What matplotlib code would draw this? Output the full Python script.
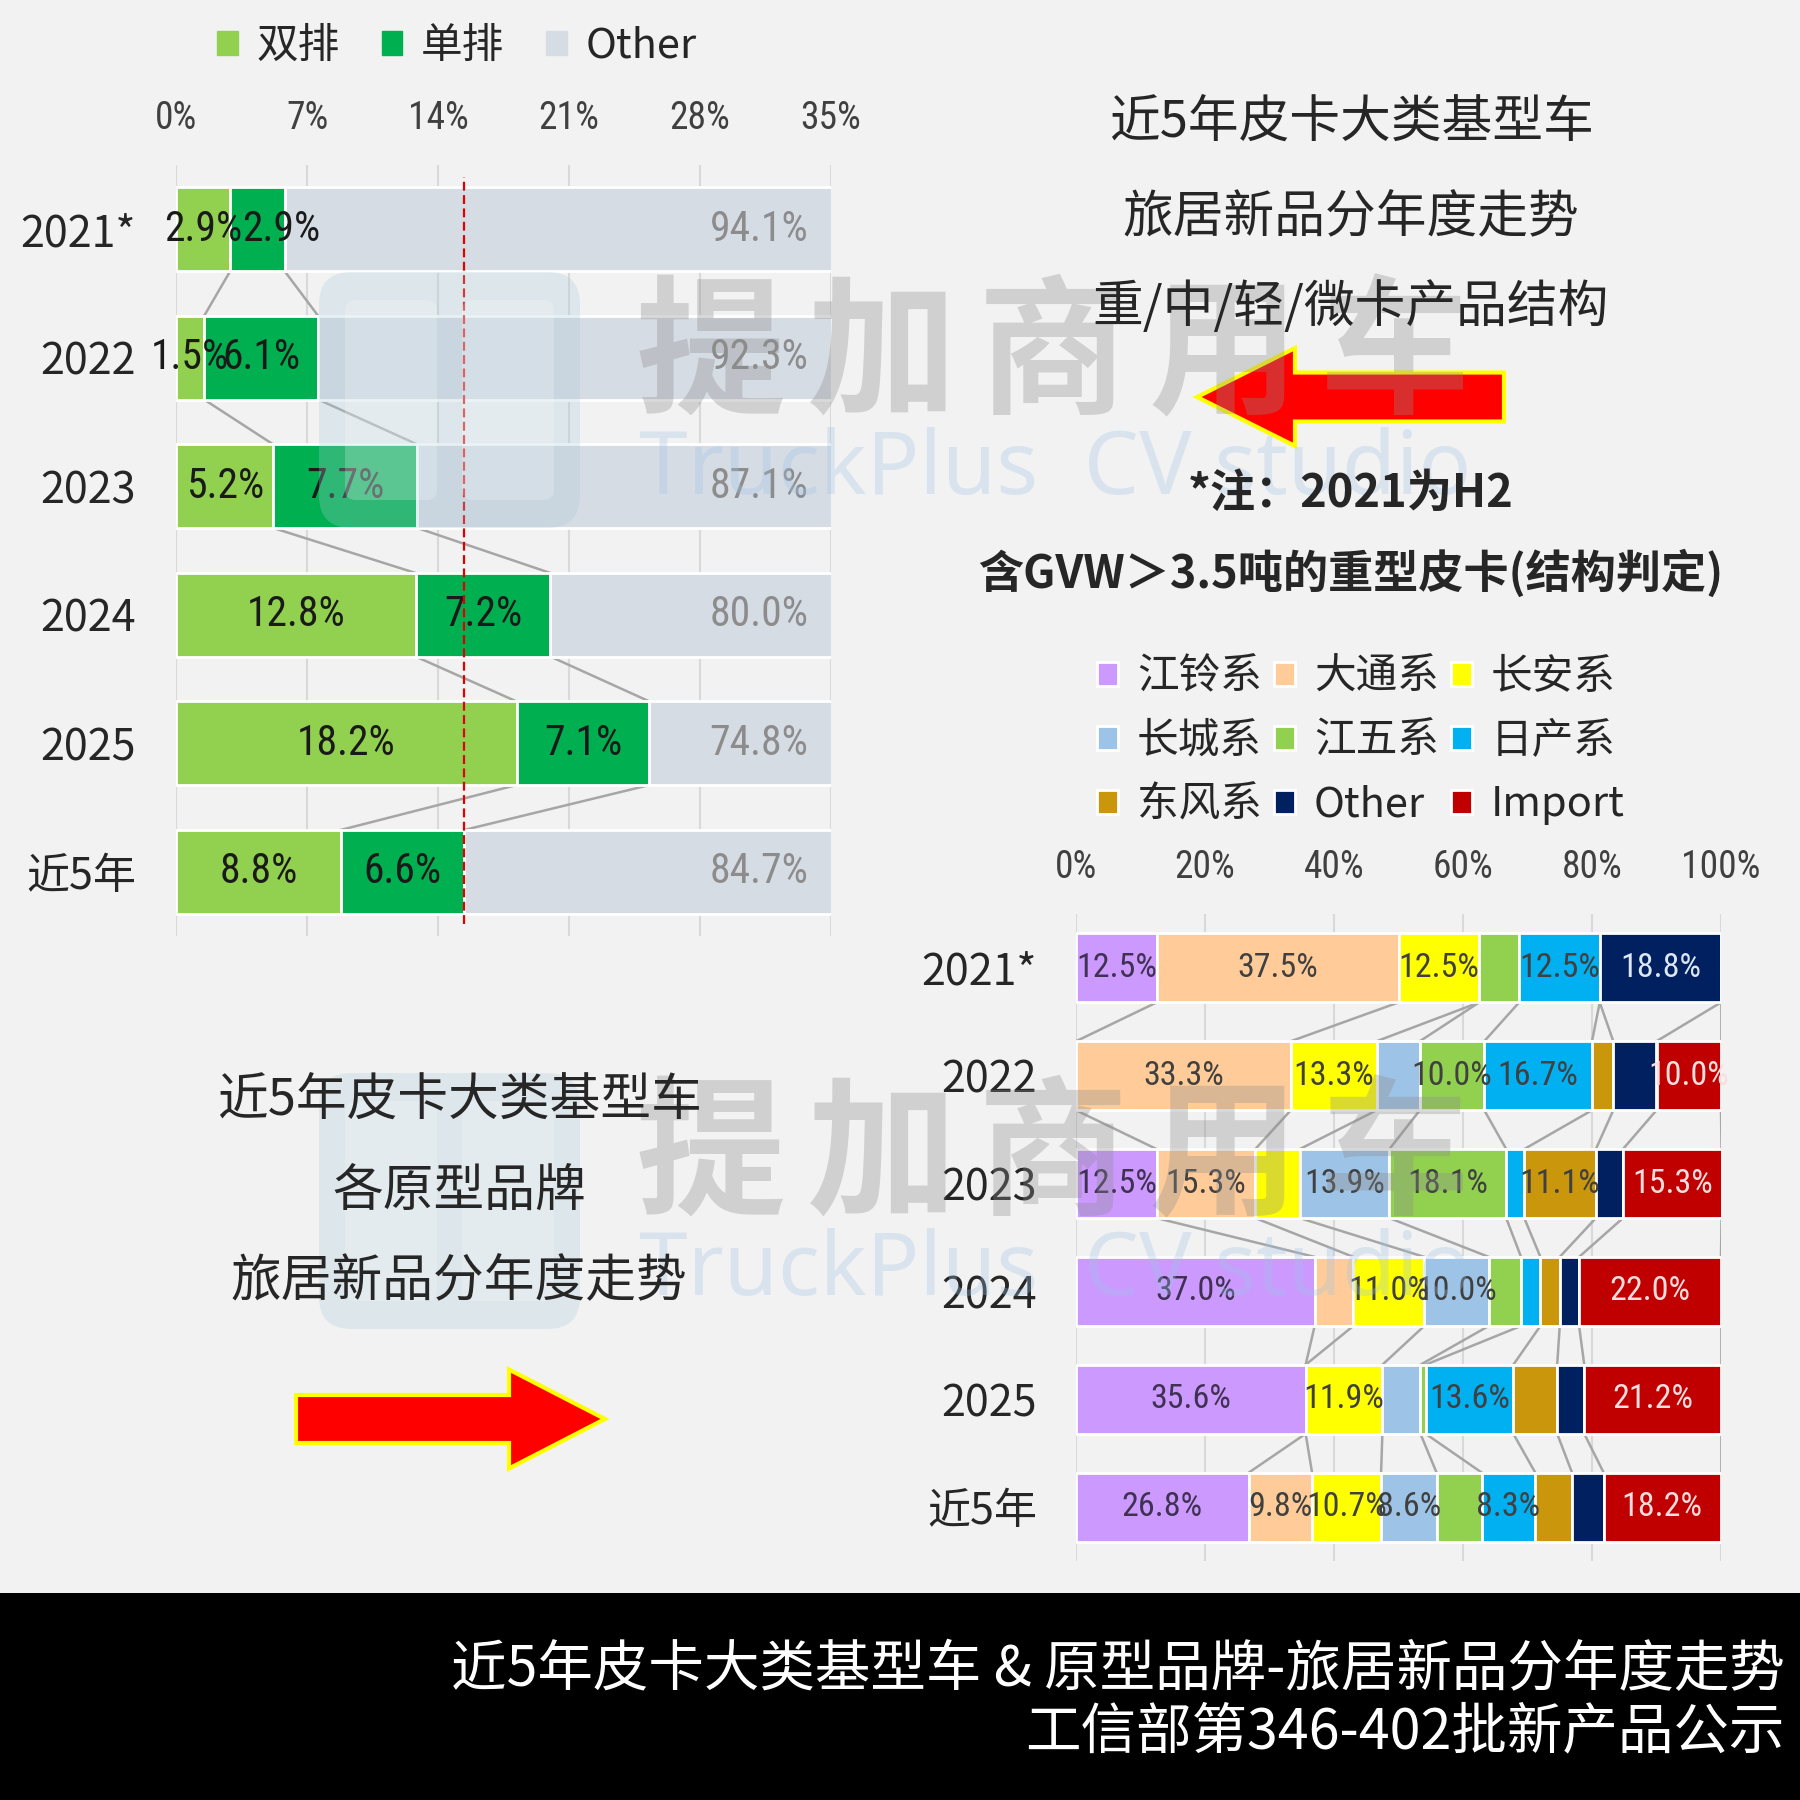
import numpy as np
import matplotlib
matplotlib.use('Agg')
import matplotlib.pyplot as plt
from matplotlib import font_manager
from matplotlib.patches import Rectangle, FancyArrow, FancyBboxPatch

# ---- data: left chart, body style share (%) ----
years = ['2021*', '2022', '2023', '2024', '2025', '近5年']
shuangpai = [2.9, 1.5, 5.2, 12.8, 18.2, 8.8]
danpai = [2.9, 6.1, 7.7, 7.2, 7.1, 6.6]
other_left = [94.1, 92.3, 87.1, 80.0, 74.8, 84.7]
left_series = ['双排', '单排', 'Other']
left_ticks = [0, 7, 14, 21, 28, 35]

# ---- data: right chart, prototype brand share (%) ----
brands = ['江铃系', '大通系', '长安系', '长城系', '江五系', '日产系', '东风系', 'Other', 'Import']
jiangling = [12.5, 0, 12.5, 37.0, 35.6, 26.8]
datong = [37.5, 33.3, 15.3, 6.0, 0, 9.8]
changan = [12.5, 13.3, 6.9, 11.0, 11.9, 10.7]
changcheng = [0, 6.7, 13.9, 10.0, 5.9, 8.6]
jiangwu = [6.2, 10.0, 18.1, 5.0, 0.8, 7.0]
richan = [12.5, 16.7, 2.8, 3.0, 13.6, 8.3]
dongfeng = [0, 3.3, 11.1, 3.0, 6.8, 5.7]
other_right = [18.8, 6.7, 4.2, 3.0, 4.2, 4.9]
imports = [0, 10.0, 15.3, 22.0, 21.2, 18.2]
right_ticks = [0, 20, 40, 60, 80, 100]

left_colors = ['#92D050', '#00B050', '#D6DCE4']
brand_colors = ['#CC99FF', '#FFCC99', '#FFFF00', '#9DC3E6', '#92D050',
                '#00B0F0', '#C9960C', '#002060', '#C00000']
brand_text = ['#3F3151', '#404040', '#404040', '#404040', '#404040',
              '#404040', '#404040', '#DDE6F5', '#F8DEDE']

CJK = 'Noto Sans CJK SC'
names = {f.name for f in font_manager.fontManager.ttflist}
NARROW = next((n for n in ['Liberation Sans Narrow', 'Arial Narrow', 'Roboto Condensed']
               if n in names), None)
if NARROW is None:
    NARROW, nscale = 'Liberation Sans', 0.82
else:
    nscale = 1.0
TXT = '#262626'
BG = '#F2F2F2'

W = 1800.0


def fx(px):
    return px / W


def fy(px):
    return 1 - px / W


fig = plt.figure(figsize=(18, 18), dpi=100, facecolor=BG)

# ================= left chart =================
axL = fig.add_axes([fx(176), fy(936), fx(831 - 176), (936 - 165) / W])
axL.set_facecolor('none')
y = np.arange(len(years))
h = 0.65
s = np.array(shuangpai)
d = np.array(danpai)
o = np.array(other_left)
axL.barh(y, s, height=h, color=left_colors[0], edgecolor='white', lw=2, zorder=2)
axL.barh(y, d, left=s, height=h, color=left_colors[1], edgecolor='white', lw=2, zorder=2)
axL.barh(y, o, left=s + d, height=h, color=left_colors[2], edgecolor='white', lw=2, zorder=2)
for cum in [s, s + d]:
    for i in range(len(years) - 1):
        axL.plot([cum[i], cum[i + 1]], [i + h / 2, i + 1 - h / 2],
                 color='#A6A6A6', lw=1.8, zorder=1)
# the first 单排 label was nudged right in the original
nudge = {0: 1.3}
for i in range(len(years)):
    axL.text(s[i] / 2, i, f'{s[i]:.1f}%', ha='center', va='center',
             family=NARROW, fontsize=30 * nscale, color='#1A1A1A', zorder=4)
    axL.text(s[i] + d[i] / 2 + nudge.get(i, 0), i, f'{d[i]:.1f}%', ha='center', va='center',
             family=NARROW, fontsize=30 * nscale, color='#1A1A1A', zorder=4)
    axL.text(33.8, i, f'{o[i]:.1f}%', ha='right', va='center',
             family=NARROW, fontsize=30 * nscale, color='#8C8C8C', zorder=4)
avg = s[-1] + d[-1]
axL.axvline(avg, ymin=0.015, ymax=0.985, color='#E00000', ls=(0, (4, 2)), lw=1.6, zorder=5)
axL.set_xlim(0, 35)
axL.set_ylim(len(years) - 0.5, -0.5)
axL.set_xticks(left_ticks)
axL.set_xticklabels([f'{t}%' for t in left_ticks], family=NARROW,
                    fontsize=27 * nscale, color='#404040')
axL.xaxis.tick_top()
axL.set_yticks(y)
axL.set_yticklabels(years, family=[CJK, 'DejaVu Sans'], fontsize=31, color=TXT)
axL.tick_params(length=0)
axL.tick_params(axis='x', pad=20)
axL.tick_params(axis='y', pad=29)
axL.grid(axis='x', color='#D9D9D9', lw=1.5)
axL.set_axisbelow(True)
for sp in axL.spines.values():
    sp.set_visible(False)

hl = [Rectangle((0, 0), 1, 1, color=c) for c in left_colors]
fig.legend(hl, left_series, loc='center', bbox_to_anchor=(fx(457), fy(46)), ncol=3,
           frameon=False, handlelength=0.5, handleheight=0.5, handletextpad=0.45,
           columnspacing=1.0, prop={'family': CJK, 'size': 30}, labelcolor=TXT)

# ================= right chart =================
axR = fig.add_axes([fx(1076), fy(1561), fx(1721 - 1076), (1561 - 914) / W])
axR.set_facecolor('none')
hr = 0.64
shares = np.array([jiangling, datong, changan, changcheng, jiangwu,
                   richan, dongfeng, other_right, imports])
left = np.zeros(len(years))
for k, name in enumerate(brands):
    vals = shares[k]
    axR.barh(y, vals, left=left, height=hr, color=brand_colors[k],
             edgecolor='white', lw=2, zorder=2, label=name)
    for i in range(len(years)):
        if vals[i] >= 8:
            axR.text(left[i] + vals[i] / 2, i, f'{vals[i]:.1f}%', ha='center', va='center',
                     family=NARROW, fontsize=24.5 * nscale, color=brand_text[k], zorder=4)
    left = left + vals
    for i in range(len(years) - 1):
        axR.plot([left[i], left[i + 1]], [i + hr / 2, i + 1 - hr / 2],
                 color='#A6A6A6', lw=1.8, zorder=1)
axR.set_xlim(0, 100)
axR.set_ylim(len(years) - 0.5, -0.5)
axR.set_xticks(right_ticks)
axR.set_xticklabels([f'{t}%' for t in right_ticks], family=NARROW,
                    fontsize=27 * nscale, color='#404040')
axR.xaxis.tick_top()
axR.set_yticks(y)
axR.set_yticklabels(years, family=[CJK, 'DejaVu Sans'], fontsize=31, color=TXT)
axR.tick_params(length=0)
axR.tick_params(axis='x', pad=20)
axR.tick_params(axis='y', pad=28)
axR.grid(axis='x', color='#D9D9D9', lw=1.5)
axR.set_axisbelow(True)
for sp in axR.spines.values():
    sp.set_visible(False)

hb, lb = axR.get_legend_handles_labels()
order = [0, 3, 6, 1, 4, 7, 2, 5, 8]
fig.legend([hb[i] for i in order], [lb[i] for i in order], loc='center',
           bbox_to_anchor=(fx(1361), fy(741)), ncol=3, frameon=False,
           handlelength=0.5, handleheight=0.5, handletextpad=0.45, columnspacing=0.3,
           labelspacing=0.55, prop={'family': CJK, 'size': 30}, labelcolor=TXT)

# ================= captions =================
cap = dict(ha='center', va='center', family=CJK, color=TXT, zorder=12)
fig.text(fx(1351), fy(124), '近5年皮卡大类基型车', fontsize=36.5, **cap)
fig.text(fx(1351), fy(218), '旅居新品分年度走势', fontsize=36.5, **cap)
fig.text(fx(1351), fy(308), '重/中/轻/微卡产品结构', fontsize=36.5, **cap)
fig.text(fx(1351), fy(494), '*注：2021为H2', fontsize=32.5, weight='bold', **cap)
fig.text(fx(1351), fy(574), '含GVW＞3.5吨的重型皮卡(结构判定)', fontsize=32.5,
         weight='bold', **cap)

fig.text(fx(459), fy(1102), '近5年皮卡大类基型车', fontsize=36.5, **cap)
fig.text(fx(459), fy(1192), '各原型品牌', fontsize=36.5, **cap)
fig.text(fx(459), fy(1282), '旅居新品分年度走势', fontsize=36.5, **cap)

# arrows
fig.add_artist(FancyArrow(fx(1504), fy(397), fx(1197 - 1504), 0, width=49 / W,
                          head_width=98 / W, head_length=98 / W, length_includes_head=True,
                          transform=fig.transFigure, fc='#FF0000', ec='#FFFF00', lw=3, zorder=3))
fig.add_artist(FancyArrow(fx(296), fy(1419), fx(605 - 296), 0, width=48 / W,
                          head_width=99 / W, head_length=96 / W, length_includes_head=True,
                          transform=fig.transFigure, fc='#FF0000', ec='#FFFF00', lw=3, zorder=3))

# watermark (twice)
wm = '提加商用车'
for off in [0, 801]:
    fig.add_artist(FancyBboxPatch((fx(319), fy(528 + off)), 261 / W, 256 / W,
                                  boxstyle='round,pad=0,rounding_size=0.018',
                                  transform=fig.transFigure, fc='#A9CAD8', ec='none',
                                  alpha=0.28, zorder=9))
    for x0 in [345, 462]:
        fig.add_artist(FancyBboxPatch((fx(x0), fy(500 + off)), 92 / W, 200 / W,
                                      boxstyle='round,pad=0,rounding_size=0.006',
                                      transform=fig.transFigure, fc='white', ec='none',
                                      alpha=0.22, zorder=9))
    for j, ch in enumerate(wm):
        fig.text(fx(711 + j * 171), fy(358 + off), ch, ha='center', va='center',
                 family=CJK, weight='bold', fontsize=108, color='#8C8C8C', alpha=0.33,
                 zorder=10)
    fig.text(fx(1055), fy(471 + off), 'TruckPlus  CV studio', ha='center', va='center',
             family='Noto Sans', fontsize=63, color='#9DC3E6', alpha=0.3, zorder=10)

# bottom banner
fig.add_artist(Rectangle((0, 0), 1, fy(1593), transform=fig.transFigure,
                         fc='black', ec='none', zorder=13))
fig.text(fx(1785), fy(1670), '近5年皮卡大类基型车 & 原型品牌-旅居新品分年度走势',
         ha='right', va='center', family=[CJK, 'DejaVu Sans'], fontsize=40,
         color='white', zorder=14)
fig.text(fx(1785), fy(1733), '工信部第346-402批新产品公示', ha='right', va='center',
         family=CJK, fontsize=40, color='white', zorder=14)

fig.savefig('out.png', dpi=100, facecolor=BG)
